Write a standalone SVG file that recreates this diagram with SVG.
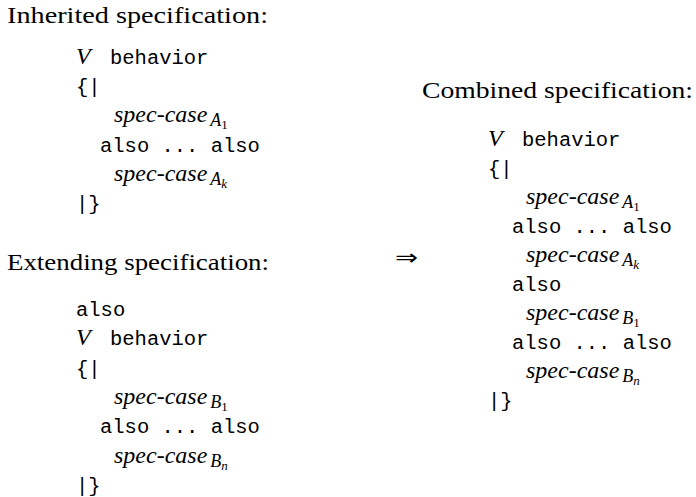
<svg xmlns="http://www.w3.org/2000/svg" width="696" height="497" viewBox="0 0 696 497">
  <style>
    .ttl { font-family: "Liberation Serif", serif; font-size: 24px; fill: #000; }
    .tt  { font-family: "Liberation Mono", monospace; font-size: 20.5px; fill: #000; }
    .it  { font-family: "Liberation Serif", serif; font-style: italic; font-size: 24px; fill: #000; }
    .sub { font-size: 18px; }
    .ss  { font-size: 13px; }
    .up  { font-style: normal; }
    .sym { font-family: "DejaVu Sans", sans-serif; font-size: 22px; fill: #000; }
  </style>
  <rect width="696" height="497" fill="#fff"/>

  <!-- inherited behavior specification -->
  <g id="inherited">
    <text class="ttl" x="7" y="23" textLength="261" lengthAdjust="spacingAndGlyphs">Inherited specification:</text>
    <text class="it" x="76" y="64">V</text>
    <text class="tt" x="110" y="64">behavior</text>
    <text class="tt" x="76" y="93">{|</text>
    <text class="it" x="114" y="122">spec-case<tspan class="sub" dx="3" dy="4">A</tspan><tspan class="ss up" dy="3">1</tspan></text>
    <text class="tt" x="100" y="152">also ... also</text>
    <text class="it" x="114" y="181">spec-case<tspan class="sub" dx="3" dy="4">A</tspan><tspan class="ss" dy="3">k</tspan></text>
    <text class="tt" x="76" y="210">|}</text>
  </g>

  <!-- extending behavior specification -->
  <g id="extending">
    <text class="ttl" x="7" y="270" textLength="262" lengthAdjust="spacingAndGlyphs">Extending specification:</text>
    <text class="tt" x="76" y="316">also</text>
    <text class="it" x="76" y="345">V</text>
    <text class="tt" x="110" y="345">behavior</text>
    <text class="tt" x="76" y="375">{|</text>
    <text class="it" x="114" y="404">spec-case<tspan class="sub" dx="3" dy="4">B</tspan><tspan class="ss up" dy="3">1</tspan></text>
    <text class="tt" x="100" y="433">also ... also</text>
    <text class="it" x="114" y="463">spec-case<tspan class="sub" dx="3" dy="4">B</tspan><tspan class="ss" dy="3">n</tspan></text>
    <text class="tt" x="76" y="492">|}</text>
  </g>

  <!-- implication between the two inputs and the result -->
  <g id="connectors">
    <text class="sym" x="395" y="265" textLength="23" lengthAdjust="spacingAndGlyphs">⇒</text>
  </g>

  <!-- combined behavior specification -->
  <g id="combined">
    <text class="ttl" x="422" y="98" textLength="271" lengthAdjust="spacingAndGlyphs">Combined specification:</text>
    <text class="it" x="488" y="146">V</text>
    <text class="tt" x="522" y="146">behavior</text>
    <text class="tt" x="488" y="175">{|</text>
    <text class="it" x="526" y="204">spec-case<tspan class="sub" dx="3" dy="4">A</tspan><tspan class="ss up" dy="3">1</tspan></text>
    <text class="tt" x="512" y="233">also ... also</text>
    <text class="it" x="526" y="262">spec-case<tspan class="sub" dx="3" dy="4">A</tspan><tspan class="ss" dy="3">k</tspan></text>
    <text class="tt" x="512" y="291">also</text>
    <text class="it" x="526" y="320">spec-case<tspan class="sub" dx="3" dy="4">B</tspan><tspan class="ss up" dy="3">1</tspan></text>
    <text class="tt" x="512" y="349">also ... also</text>
    <text class="it" x="526" y="378">spec-case<tspan class="sub" dx="3" dy="4">B</tspan><tspan class="ss" dy="3">n</tspan></text>
    <text class="tt" x="488" y="407">|}</text>
  </g>
</svg>
